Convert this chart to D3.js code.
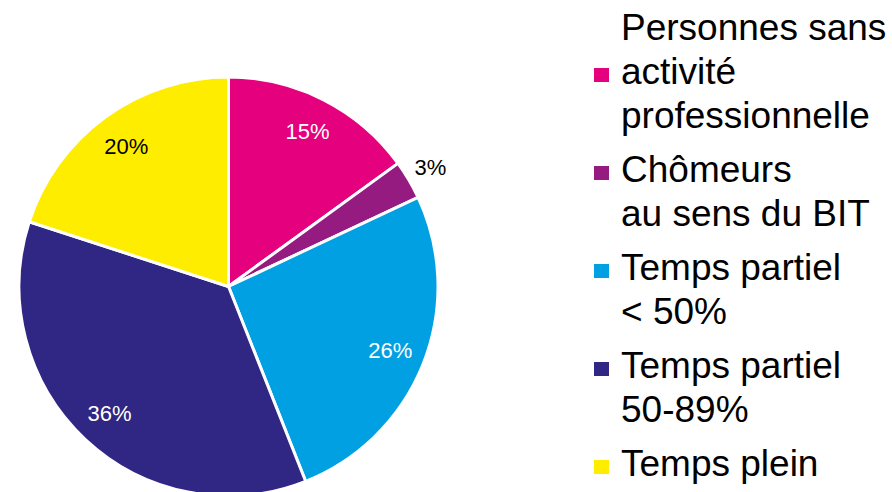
<!DOCTYPE html>
<html>
<head>
<meta charset="utf-8">
<script src="https://cdn.jsdelivr.net/npm/d3@7"></script>
<style>
  html, body { margin: 0; padding: 0; background: #ffffff; }
  svg { display: block; }
  text { font-family: "Liberation Sans", Arial, sans-serif; }
</style>
</head>
<body>
<svg id="chart" width="892" height="492"></svg>
<script>
// Répartition par situation d'activité
const categories = [
  "Personnes sans activité professionnelle",
  "Chômeurs au sens du BIT",
  "Temps partiel < 50%",
  "Temps partiel 50-89%",
  "Temps plein"
];
const values = [15, 3, 26, 36, 20];
const legendLines = [
  ["Personnes sans", "activité", "professionnelle"],
  ["Chômeurs", "au sens du BIT"],
  ["Temps partiel", "< 50%"],
  ["Temps partiel", "50-89%"],
  ["Temps plein"]
];
const colors = ["#E5007E", "#951B81", "#00A0E3", "#302683", "#FFED00"];
const labelColors = ["#ffffff", "#000000", "#ffffff", "#ffffff", "#000000"];

const W = 892, H = 492;
const svg = d3.select("#chart");
svg.append("rect").attr("width", W).attr("height", H).attr("fill", "#ffffff");

// ---- Pie ----
const cx = 228.5, cy = 286.5, R = 209.5;
const data = categories.map((c, i) => ({ name: c, value: values[i], i }));

const pie = d3.pie().value(d => d.value).sort(null);
const arcs = pie(data);

const arc = d3.arc().innerRadius(0).outerRadius(R);
const labelArcIn = d3.arc().innerRadius(R * 0.83).outerRadius(R * 0.83);
const labelArcOut = d3.arc().innerRadius(R * 1.12).outerRadius(R * 1.12);

const g = svg.append("g").attr("transform", `translate(${cx},${cy})`);

g.selectAll("path.slice")
  .data(arcs)
  .join("path")
  .attr("class", "slice")
  .attr("d", arc)
  .attr("fill", d => colors[d.data.i])
  .attr("stroke", "#ffffff")
  .attr("stroke-width", 3)
  .attr("stroke-linejoin", "round");

g.selectAll("text.pct")
  .data(arcs)
  .join("text")
  .attr("class", "pct")
  .attr("transform", d => {
    const small = d.data.value < 5;
    const p = (small ? labelArcOut : labelArcIn).centroid(d);
    return `translate(${p[0]},${p[1]})`;
  })
  .attr("text-anchor", "middle")
  .attr("dy", "0.35em")
  .attr("font-size", 22)
  .attr("fill", d => labelColors[d.data.i])
  .text(d => d.data.value + "%");

// ---- Legend ----
const legendX = 594, textX = 621;
const lineH = 44, itemGap = 10, firstBaseline = 40;
const fontSize = 37;
const swW = 15, swH = 14;

const legend = svg.append("g");
let baseline = firstBaseline;
legendLines.forEach((lines, i) => {
  const item = legend.append("g");
  const swLine = Math.floor((lines.length - 1) / 2);
  const swBase = baseline + swLine * lineH;
  item.append("rect")
    .attr("x", legendX)
    .attr("y", swBase - 16)
    .attr("width", swW)
    .attr("height", swH)
    .attr("fill", colors[i]);
  const t = item.append("text")
    .attr("font-size", fontSize)
    .attr("fill", "#000000");
  lines.forEach((ln, k) => {
    t.append("tspan")
      .attr("x", textX)
      .attr("y", baseline + k * lineH)
      .text(ln);
  });
  baseline += lines.length * lineH + itemGap;
});
</script>
</body>
</html>
